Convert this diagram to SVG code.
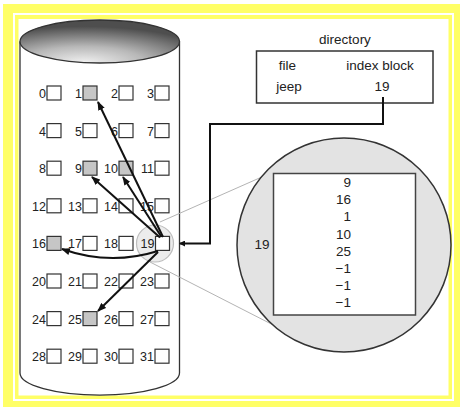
<svg xmlns="http://www.w3.org/2000/svg" width="461" height="408" viewBox="0 0 461 408">
<style>
  text { font-family: "Liberation Sans", Arial, sans-serif; fill: #222; }
  .lbl { font-size: 12.5px; text-anchor: end; }
  .rt { font-size: 13.5px; text-anchor: middle; }
  .val { font-size: 13.5px; text-anchor: end; }
  .blk { fill: #fff; stroke: #333; stroke-width: 1.2; }
  .sh { fill: #c6c6c6; stroke: #333; stroke-width: 1.2; }
  .arr { fill: none; stroke: #111; stroke-width: 2; marker-end: url(#ah); }
  .proj { fill: none; stroke: #b4b4b4; stroke-width: 1; }
</style>
<defs>
  <marker id="ah" markerUnits="userSpaceOnUse" markerWidth="9" markerHeight="7" refX="8" refY="3.5" orient="auto">
    <path d="M0,0 L9,3.5 L0,7 z" fill="#111"/>
  </marker>
  <marker id="ah2" markerUnits="userSpaceOnUse" markerWidth="6" markerHeight="6" refX="5" refY="3" orient="auto">
    <path d="M0,0 L6,3 L0,6 z" fill="#111"/>
  </marker>
  <radialGradient id="top" cx="0.4" cy="1" r="0.85" fx="0.4" fy="1">
    <stop offset="0" stop-color="#f2f2f2"/>
    <stop offset="0.45" stop-color="#b8b8b8"/>
    <stop offset="1" stop-color="#4e4e4e"/>
  </radialGradient>
</defs>

<g id="frame">
  <rect x="3" y="4" width="457" height="403" fill="#ffff66"/>
  <rect x="14" y="14" width="439" height="386" fill="none" stroke="#fff" stroke-width="2"/>
  <rect x="18.5" y="19" width="430" height="376.5" fill="#fff"/>
</g>

<g id="disk">
  <path d="M20,41.5 L20,373 A79.5,22 0 0 0 179.5,373 L179.5,41.5" fill="#fff" stroke="#333" stroke-width="1.3"/>
  <ellipse cx="99.75" cy="41.5" rx="79.75" ry="21.5" fill="url(#top)" stroke="#333" stroke-width="1.3"/>
</g>

<g id="projection">
  <line class="proj" x1="160" y1="222" x2="264" y2="176"/>
  <line class="proj" x1="150" y1="262" x2="281" y2="329"/>
</g>

<g id="zoom-circle-small">
  <circle cx="155" cy="243.5" r="18.5" fill="#dcdcdc" fill-opacity="0.55" stroke="#bdbdbd" stroke-width="1.2"/>
</g>

<g id="blocks">
  <g id="b0"><rect class="blk" x="47" y="86" width="14" height="14"/><text class="lbl" x="46" y="98">0</text></g>
  <g id="b1"><rect class="sh" x="83" y="86" width="14" height="14"/><text class="lbl" x="82" y="98">1</text></g>
  <g id="b2"><rect class="blk" x="119" y="86" width="14" height="14"/><text class="lbl" x="118" y="98">2</text></g>
  <g id="b3"><rect class="blk" x="155" y="86" width="14" height="14"/><text class="lbl" x="154" y="98">3</text></g>

  <g id="b4"><rect class="blk" x="47" y="123.6" width="14" height="14"/><text class="lbl" x="46" y="135.6">4</text></g>
  <g id="b5"><rect class="blk" x="83" y="123.6" width="14" height="14"/><text class="lbl" x="82" y="135.6">5</text></g>
  <g id="b6"><rect class="blk" x="119" y="123.6" width="14" height="14"/><text class="lbl" x="118" y="135.6">6</text></g>
  <g id="b7"><rect class="blk" x="155" y="123.6" width="14" height="14"/><text class="lbl" x="154" y="135.6">7</text></g>

  <g id="b8"><rect class="blk" x="47" y="161.2" width="14" height="14"/><text class="lbl" x="46" y="173.2">8</text></g>
  <g id="b9"><rect class="sh" x="83" y="161.2" width="14" height="14"/><text class="lbl" x="82" y="173.2">9</text></g>
  <g id="b10"><rect class="sh" x="119" y="161.2" width="14" height="14"/><text class="lbl" x="118" y="173.2">10</text></g>
  <g id="b11"><rect class="blk" x="155" y="161.2" width="14" height="14"/><text class="lbl" x="154" y="173.2">11</text></g>

  <g id="b12"><rect class="blk" x="47" y="198.8" width="14" height="14"/><text class="lbl" x="46" y="210.8">12</text></g>
  <g id="b13"><rect class="blk" x="83" y="198.8" width="14" height="14"/><text class="lbl" x="82" y="210.8">13</text></g>
  <g id="b14"><rect class="blk" x="119" y="198.8" width="14" height="14"/><text class="lbl" x="118" y="210.8">14</text></g>
  <g id="b15"><rect class="blk" x="155" y="198.8" width="14" height="14"/><text class="lbl" x="154" y="210.8">15</text></g>

  <g id="b16"><rect class="sh" x="47" y="236.4" width="14" height="14"/><text class="lbl" x="46" y="248.4">16</text></g>
  <g id="b17"><rect class="blk" x="83" y="236.4" width="14" height="14"/><text class="lbl" x="82" y="248.4">17</text></g>
  <g id="b18"><rect class="blk" x="119" y="236.4" width="14" height="14"/><text class="lbl" x="118" y="248.4">18</text></g>
  <g id="b19"><rect class="blk" x="155.5" y="236.4" width="14" height="14"/><text class="lbl" x="154.5" y="248.4">19</text></g>

  <g id="b20"><rect class="blk" x="47" y="274" width="14" height="14"/><text class="lbl" x="46" y="286">20</text></g>
  <g id="b21"><rect class="blk" x="83" y="274" width="14" height="14"/><text class="lbl" x="82" y="286">21</text></g>
  <g id="b22"><rect class="blk" x="119" y="274" width="14" height="14"/><text class="lbl" x="118" y="286">22</text></g>
  <g id="b23"><rect class="blk" x="155" y="274" width="14" height="14"/><text class="lbl" x="154" y="286">23</text></g>

  <g id="b24"><rect class="blk" x="47" y="311.6" width="14" height="14"/><text class="lbl" x="46" y="323.6">24</text></g>
  <g id="b25"><rect class="sh" x="83" y="311.6" width="14" height="14"/><text class="lbl" x="82" y="323.6">25</text></g>
  <g id="b26"><rect class="blk" x="119" y="311.6" width="14" height="14"/><text class="lbl" x="118" y="323.6">26</text></g>
  <g id="b27"><rect class="blk" x="155" y="311.6" width="14" height="14"/><text class="lbl" x="154" y="323.6">27</text></g>

  <g id="b28"><rect class="blk" x="47" y="349.2" width="14" height="14"/><text class="lbl" x="46" y="361.2">28</text></g>
  <g id="b29"><rect class="blk" x="83" y="349.2" width="14" height="14"/><text class="lbl" x="82" y="361.2">29</text></g>
  <g id="b30"><rect class="blk" x="119" y="349.2" width="14" height="14"/><text class="lbl" x="118" y="361.2">30</text></g>
  <g id="b31"><rect class="blk" x="155" y="349.2" width="14" height="14"/><text class="lbl" x="154" y="361.2">31</text></g>
</g>

<g id="directory">
  <text class="rt" x="345" y="43.5">directory</text>
  <rect x="256.5" y="51" width="176.5" height="52" fill="#fff" stroke="#333" stroke-width="1.5"/>
  <text class="rt" x="287.5" y="70">file</text>
  <text class="rt" x="380" y="70">index block</text>
  <text class="rt" x="289" y="91">jeep</text>
  <text class="rt" x="382" y="91">19</text>
</g>

<g id="index-block">
  <circle cx="344" cy="245" r="107" fill="#e3e3e3" stroke="#333" stroke-width="1.5"/>
  <rect x="273.5" y="173.5" width="142" height="141.5" fill="#fff" stroke="#444" stroke-width="1.5"/>
  <text class="rt" x="262" y="249">19</text>
  <text class="val" x="351" y="187">9</text>
  <text class="val" x="351" y="204.2">16</text>
  <text class="val" x="351" y="221.4">1</text>
  <text class="val" x="351" y="238.6">10</text>
  <text class="val" x="351" y="255.8">25</text>
  <text class="val" x="351" y="273">−1</text>
  <text class="val" x="351" y="290.2">−1</text>
  <text class="val" x="351" y="307.4">−1</text>
</g>

<g id="connectors">
  <path d="M383,97 L383,124 L210,124 L210,243.5 L180,243.5" fill="none" stroke="#111" stroke-width="2" marker-end="url(#ah2)"/>
  <path class="arr" d="M163,237 L98,102"/>
  <path class="arr" d="M160,237.5 L92,177"/>
  <path class="arr" d="M161.5,237 L123,177"/>
  <path class="arr" d="M158,251 Q110,266 62,249"/>
  <path class="arr" d="M158,252 L98,311"/>
</g>
</svg>
